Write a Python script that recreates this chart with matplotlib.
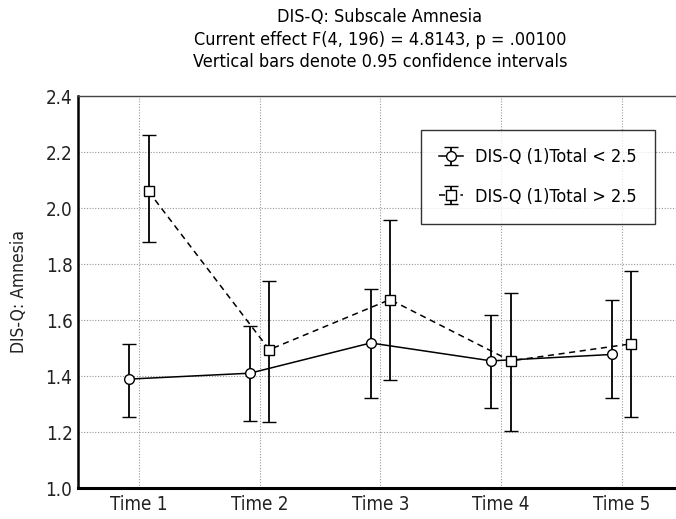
import numpy as np
import matplotlib
matplotlib.use("Agg")
import matplotlib.pyplot as plt
from matplotlib import font_manager

# narrow face if there is one, otherwise condensed DejaVu
names = {f.name for f in font_manager.fontManager.ttflist}
if "Liberation Sans Narrow" in names:
    plt.rcParams['font.family'] = ['Liberation Sans Narrow', 'DejaVu Sans']
else:
    plt.rcParams['font.family'] = ['DejaVu Sans']
    plt.rcParams['font.stretch'] = 'condensed'

# category labels and group means / 95% CI bounds
times = ["Time 1", "Time 2", "Time 3", "Time 4", "Time 5"]
low_mean = [1.389, 1.410, 1.518, 1.454, 1.477]
low_upper = [1.516, 1.577, 1.711, 1.618, 1.673]
low_lower = [1.254, 1.240, 1.323, 1.287, 1.323]
high_mean = [2.059, 1.494, 1.673, 1.454, 1.515]
high_upper = [2.261, 1.738, 1.956, 1.697, 1.776]
high_lower = [1.880, 1.237, 1.386, 1.205, 1.253]

fig = plt.figure(figsize=(6.76, 5.19), dpi=100)
ax = fig.add_axes([78 / 676, 31 / 519, 598 / 676, 392 / 519])

x = np.arange(len(times))
off = 0.08

lm, lu, ll = np.array(low_mean), np.array(low_upper), np.array(low_lower)
hm, hu, hl = np.array(high_mean), np.array(high_upper), np.array(high_lower)

e1 = ax.errorbar(x - off, lm, yerr=[lm - ll, lu - lm], color="black", lw=1.1,
                 ls="-", marker="o", ms=7, mfc="white", mec="black", mew=1.0,
                 capsize=5, capthick=1.3, elinewidth=1.3, zorder=3)
e2 = ax.errorbar(x + off, hm, yerr=[hm - hl, hu - hm], color="black", lw=1.1,
                 ls=(0, (4, 3)), marker="s", ms=6.5, mfc="white", mec="black", mew=1.0,
                 capsize=5, capthick=1.3, elinewidth=1.3, zorder=3)

ax.set_xlim(-0.505, 4.45)
ax.set_ylim(1.0, 2.4)
ax.set_xticks(x)
ax.set_xticklabels(times)
ax.set_yticks(np.arange(1.0, 2.41, 0.2))
ax.set_yticklabels(["%.1f" % v for v in np.arange(1.0, 2.41, 0.2)])
ax.tick_params(length=0, labelsize=13.5, colors="#222222")
ax.tick_params(axis="y", pad=4)
ax.tick_params(axis="x", pad=5)
ax.grid(True, color="#999999", ls=(0, (1, 1.5)), lw=0.8)

ax.spines["right"].set_visible(False)
ax.spines["left"].set_linewidth(1.8)
ax.spines["bottom"].set_linewidth(2.2)
ax.spines["top"].set_linewidth(1.0)
ax.spines["top"].set_color("#444444")

ax.set_ylabel("DIS-Q: Amnesia", fontsize=12.5, color="#222222", labelpad=13)

fig.text(380 / 676, 1 - 17 / 519, "DIS-Q: Subscale Amnesia", ha="center", va="center", fontsize=13)
fig.text(380 / 676, 1 - 40 / 519, "Current effect F(4, 196) = 4.8143, p = .00100", ha="center", va="center", fontsize=13)
fig.text(380 / 676, 1 - 62 / 519, "Vertical bars denote 0.95 confidence intervals", ha="center", va="center", fontsize=13)

leg = ax.legend([e1, e2], ["DIS-Q (1)Total < 2.5", "DIS-Q (1)Total > 2.5"],
                loc="upper left", bbox_to_anchor=((421 - 78) / 598, (488 - 130) / 392),
                fontsize=13, frameon=True, fancybox=False, handlelength=1.3,
                handletextpad=0.7, borderpad=1.0, labelspacing=1.2, borderaxespad=0)
leg.get_frame().set_edgecolor("black")
leg.get_frame().set_linewidth(1.0)

fig.savefig("out.png", dpi=100)
